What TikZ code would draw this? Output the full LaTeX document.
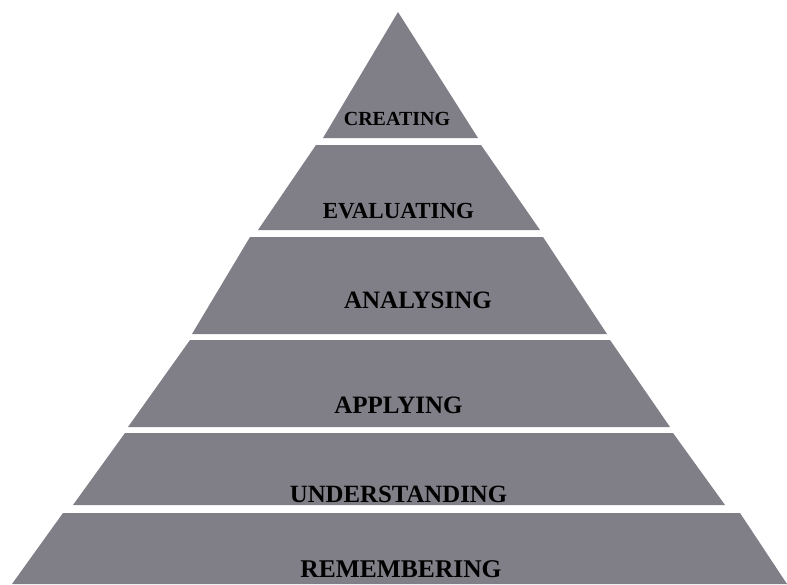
\documentclass[tikz,border=0pt]{standalone}
\usepackage{fontspec}
\setmainfont{Liberation Serif}
\usepackage{tikz}
\usepackage{xcolor}

\definecolor{bandgray}{RGB}{128,126,134}

\begin{document}
\begin{tikzpicture}[x=1pt,y=-1pt,
        band/.style={fill=bandgray},
        level/.style={anchor=base,font=\bfseries,text=black,inner sep=0pt}]
        % Fix the canvas
        \useasboundingbox (0,0) rectangle (787,584);

        % Draw the bands of the pyramid
        \foreach \yt/\xtl/\xtr/\yb/\xbl/\xbr in {
            12/398/398/138/323/478,
            145/316/481/230/258/540,
            237/250/543/334/192/607,
            340/190/610/427/128/670,
            433/125/673/505/73/725,
            513/63/740/584/12/787} {
            \fill[band] (\xtl,\yt) -- (\xtr,\yt) -- (\xbr,\yb) -- (\xbl,\yb) -- cycle;
        }

        % Label the levels
        \node[level,font=\bfseries\fontsize{20}{20}\selectfont] (creating) at (397,125) {CREATING};
        \node[level,font=\bfseries\fontsize{23}{23}\selectfont] (evaluating) at (398.5,218) {EVALUATING};
        \node[level,font=\bfseries\fontsize{25}{25}\selectfont] (analysing) at (418,308) {ANALYSING};
        \node[level,font=\bfseries\fontsize{25}{25}\selectfont] (applying) at (398.5,413) {APPLYING};
        \node[level,font=\bfseries\fontsize{24.8}{25}\selectfont] (understanding) at (398.5,502) {UNDERSTANDING};
        \node[level,font=\bfseries\fontsize{25.5}{25}\selectfont] (remembering) at (401,577) {REMEMBERING};
    \end{tikzpicture}
\end{document}
